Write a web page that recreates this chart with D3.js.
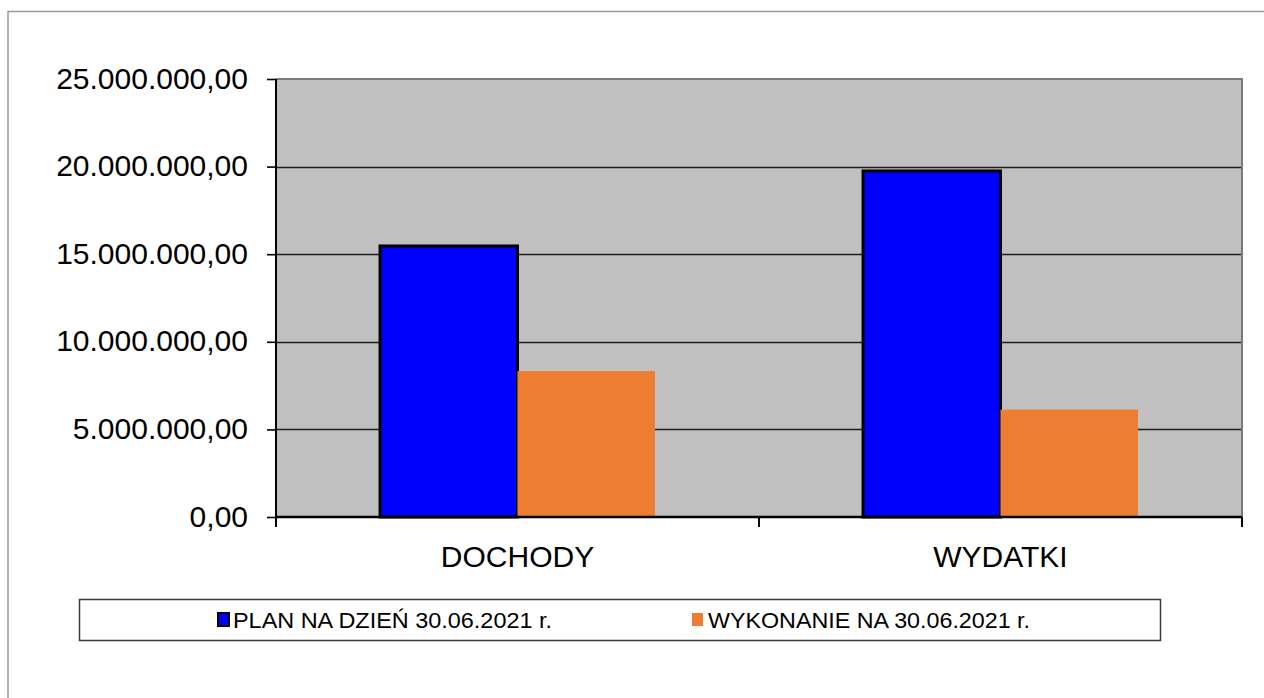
<!DOCTYPE html>
<html>
<head>
<meta charset="utf-8">
<script src="https://cdn.jsdelivr.net/npm/d3@7"></script>
<style>
  body { margin: 0; background: #fff; }
  text { font-family: "Liberation Sans", Arial, sans-serif; fill: #000; }
</style>
</head>
<body>
<div id="chart"></div>
<script>
const WIDTH = 1264;
const HEIGHT = 698;
const PLOT = { LEFT: 276, RIGHT: 1242, TOP: 79, BOTTOM: 517 };

// data
const categories = ["DOCHODY", "WYDATKI"];
const seriesNames = ["PLAN NA DZIEŃ 30.06.2021 r.", "WYKONANIE NA 30.06.2021 r."];
const planValues = [15470000, 19750000];
const wykonanieValues = [8330000, 6130000];
const yTicks = [0, 5000000, 10000000, 15000000, 20000000, 25000000];
const colors = ["#0000ff", "#ed7d31"];

const rows = categories.map((c, i) => ({
    cat: c,
    vals: [
        { s: 0, v: planValues[i] },
        { s: 1, v: wykonanieValues[i] }
    ]
}));

var svg = d3.select("div#chart").append("svg")
    .attr("width", WIDTH)
    .attr("height", HEIGHT);

// outer chart frame
svg.append("path")
    .attr("d", `M8,${HEIGHT + 5} L8,11.5 L${WIDTH + 5},11.5`)
    .attr("fill", "none")
    .attr("stroke", "#9a9a9a")
    .attr("stroke-width", 1.5);

var x0 = d3.scaleBand(categories, [PLOT.LEFT, PLOT.RIGHT]).padding(0);
var x1 = d3.scaleBand([0, 1], [0, x0.bandwidth()]).paddingInner(0).paddingOuter(0.757);
var y = d3.scaleLinear([0, 25000000], [PLOT.BOTTOM, PLOT.TOP]);

const plLocale = d3.formatLocale({ decimal: ",", thousands: ".", grouping: [3], currency: ["", ""] });
const fmt = plLocale.format(",.2f");

// plot background
svg.append("rect")
    .attr("x", PLOT.LEFT)
    .attr("y", PLOT.TOP)
    .attr("width", PLOT.RIGHT - PLOT.LEFT)
    .attr("height", PLOT.BOTTOM - PLOT.TOP)
    .attr("fill", "#c0c0c0");

// gridlines
svg.append("g").attr("class", "grid")
    .selectAll("line")
    .data(yTicks.filter(d => d > 0 && d < 25000000))
    .join("line")
    .attr("x1", PLOT.LEFT)
    .attr("x2", PLOT.RIGHT)
    .attr("y1", d => Math.round(y(d)) + 0.5)
    .attr("y2", d => Math.round(y(d)) + 0.5)
    .attr("stroke", "#1e1e1e")
    .attr("stroke-width", 1.6);

// top + right border of plot area
svg.append("path")
    .attr("d", `M${PLOT.LEFT},${PLOT.TOP} L${PLOT.RIGHT},${PLOT.TOP} L${PLOT.RIGHT},${PLOT.BOTTOM}`)
    .attr("fill", "none")
    .attr("stroke", "#7a7a7a")
    .attr("stroke-width", 2);

// bars
var groups = svg.append("g").attr("class", "bars")
    .selectAll("g")
    .data(rows)
    .join("g")
    .attr("transform", d => `translate(${x0(d.cat)},0)`);

groups.selectAll("rect")
    .data(d => d.vals)
    .join("rect")
    .attr("x", d => x1(d.s))
    .attr("y", d => y(d.v))
    .attr("width", x1.bandwidth())
    .attr("height", d => y(0) - y(d.v))
    .attr("fill", d => colors[d.s])
    .attr("stroke", d => d.s === 0 ? "#000" : "none")
    .attr("stroke-width", 3);

// y axis
var yAxis = svg.append("g")
    .attr("transform", `translate(${PLOT.LEFT},0)`)
    .call(d3.axisLeft(y).tickValues(yTicks).tickFormat(fmt).tickSize(9).tickPadding(19));
yAxis.select(".domain").attr("stroke", "#000").attr("stroke-width", 2)
    .attr("d", `M0,${PLOT.TOP} V${PLOT.BOTTOM + 10}`);
yAxis.selectAll(".tick line").attr("stroke", "#000").attr("stroke-width", 1.6);
yAxis.selectAll(".tick text")
    .style("font-size", "30px")
    .attr("dy", "0.3em")
    .attr("font-family", null);

// x axis
var xAxis = svg.append("g")
    .attr("transform", `translate(0,${PLOT.BOTTOM})`);
xAxis.append("line")
    .attr("x1", PLOT.LEFT).attr("x2", PLOT.RIGHT)
    .attr("stroke", "#000").attr("stroke-width", 2.5);
xAxis.selectAll("line.sep")
    .data([...categories.map(c => x0(c)), PLOT.RIGHT])
    .join("line")
    .attr("class", "sep")
    .attr("x1", d => d).attr("x2", d => d)
    .attr("y1", 0).attr("y2", 10)
    .attr("stroke", "#000").attr("stroke-width", 2);
xAxis.selectAll("text")
    .data(categories)
    .join("text")
    .attr("x", d => x0(d) + x0.bandwidth() / 2)
    .attr("y", 50)
    .attr("text-anchor", "middle")
    .style("font-size", "30px")
    .text(d => d);

// legend
var legend = svg.append("g").attr("class", "legend");
legend.append("rect")
    .attr("x", 79.5).attr("y", 599.5)
    .attr("width", 1081).attr("height", 41)
    .attr("fill", "#fff")
    .attr("stroke", "#3a3a3a")
    .attr("stroke-width", 1.5);

const legendX = [217, 692];
const legendLen = [319, 322];
var items = legend.selectAll("g.item")
    .data(seriesNames)
    .join("g")
    .attr("class", "item")
    .attr("transform", (d, i) => `translate(${legendX[i]},612)`);
items.append("rect")
    .attr("x", (d, i) => i === 0 ? 1 : 0)
    .attr("y", 1)
    .attr("width", 11)
    .attr("height", 13)
    .attr("fill", (d, i) => colors[i])
    .attr("stroke", (d, i) => i === 0 ? "#000" : "none")
    .attr("stroke-width", 2);
items.append("text")
    .attr("x", 16)
    .attr("y", 15.5)
    .attr("textLength", (d, i) => legendLen[i])
    .attr("lengthAdjust", "spacingAndGlyphs")
    .style("font-size", "22.5px")
    .text(d => d);
</script>
</body>
</html>
